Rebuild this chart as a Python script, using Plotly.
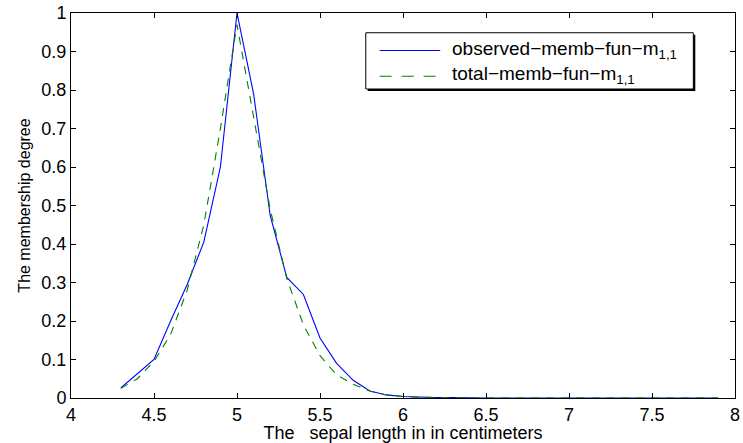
import plotly.graph_objects as go

sepal_length = [4.3, 4.4, 4.5, 4.6, 4.7, 4.8, 4.9, 5.0, 5.1, 5.2, 5.3, 5.4, 5.5,
                5.6, 5.7, 5.8, 5.9, 6.0, 6.1, 6.2, 6.3, 6.4, 6.5, 6.6, 6.7, 6.8,
                6.9, 7.0, 7.1, 7.2, 7.3, 7.4, 7.5, 7.6, 7.7, 7.8, 7.9]

observed_memb = [0.026, 0.063, 0.10, 0.20, 0.295, 0.405, 0.60, 1.00, 0.79, 0.474,
                 0.313, 0.269, 0.156, 0.090, 0.046, 0.018, 0.008, 0.004, 0.002,
                 0.001, 0.001, 0.0, 0.0, 0.0, 0.0, 0.0, 0.0, 0.0, 0.0, 0.0, 0.0,
                 0.0, 0.0, 0.0, 0.0, 0.0, 0.0]

total_memb = [0.025, 0.05, 0.095, 0.165, 0.28, 0.45, 0.70, 0.97, 0.73, 0.49,
              0.31, 0.19, 0.11, 0.06, 0.036, 0.018, 0.008, 0.004, 0.002, 0.001,
              0.0005, 0.0, 0.0, 0.0, 0.0, 0.0, 0.0, 0.0, 0.0, 0.0, 0.0, 0.0,
              0.0, 0.0, 0.0, 0.0, 0.0]

x_ticks = [4, 4.5, 5, 5.5, 6, 6.5, 7, 7.5, 8]
x_tick_labels = ["4", "4.5", "5", "5.5", "6", "6.5", "7", "7.5", "8"]
y_ticks = [0, 0.1, 0.2, 0.3, 0.4, 0.5, 0.6, 0.7, 0.8, 0.9, 1]
y_tick_labels = ["0", "0.1", "0.2", "0.3", "0.4", "0.5", "0.6", "0.7", "0.8", "0.9", "1"]

series_names = ["observed\u2212memb\u2212fun\u2212m<sub>1,1</sub>",
                "total\u2212memb\u2212fun\u2212m<sub>1,1</sub>"]
series_colors = ["#0000ff", "#008000"]
series_dash = ["solid", "8px,7px"]
legend_dash = ["solid", "12px,10px"]

FONT = "Liberation Sans, Arial, Helvetica, sans-serif"

W, H = 743, 443
ML, MR, MT, MB = 71, 3, 8, 45
PW, PH = W - ML - MR, H - MT - MB


def px_x(p):
    return (p - ML) / PW


def px_y(p):
    return (H - MB - p) / PH


fig = go.Figure()
for ys, name, col, dash in zip([observed_memb, total_memb], series_names,
                               series_colors, series_dash):
    fig.add_trace(go.Scatter(
        x=sepal_length, y=ys, mode="lines", name=name,
        line=dict(color=col, width=1.1, dash=dash), showlegend=False,
    ))

axis_common = dict(
    showline=True, linecolor="black", linewidth=1, mirror="ticks",
    ticks="inside", ticklen=5, tickcolor="black", showgrid=False,
    zeroline=False, ticklabeloverflow="allow",
    tickfont=dict(family=FONT, size=18, color="black"),
)

# legend box (MATLAB style, with slight shadow)
shapes = [
    dict(type="rect", xref="paper", yref="paper",
         x0=px_x(370), x1=px_x(700), y0=px_y(87), y1=px_y(30),
         fillcolor="black", line=dict(width=0), layer="above"),
    dict(type="rect", xref="paper", yref="paper",
         x0=px_x(368), x1=px_x(698), y0=px_y(85), y1=px_y(28),
         fillcolor="white", line=dict(color="black", width=1), layer="above"),
]
annotations = []
row_y = [46, 72]
for ry, name, col, dash in zip(row_y, series_names, series_colors, legend_dash):
    shapes.append(dict(type="line", xref="paper", yref="paper",
                       x0=px_x(382), x1=px_x(443), y0=px_y(ry), y1=px_y(ry),
                       line=dict(color=col, width=1.1, dash=dash),
                       layer="above"))
    annotations.append(dict(xref="paper", yref="paper", x=px_x(453), y=px_y(ry - 1),
                            xanchor="left", yanchor="middle", showarrow=False,
                            text=name, font=dict(family=FONT, size=19, color="black")))

fig.update_layout(
    width=W, height=H,
    margin=dict(l=ML, r=MR, t=MT, b=MB),
    paper_bgcolor="white", plot_bgcolor="white",
    font=dict(family=FONT, color="black"),
    xaxis=dict(range=[4, 8], tickvals=x_ticks, ticktext=x_tick_labels,
               title=dict(text="The\u00a0\u00a0\u00a0sepal length in in centimeters",
                          font=dict(family=FONT, size=18), standoff=2),
               **axis_common),
    yaxis=dict(range=[0, 1], tickvals=y_ticks, ticktext=y_tick_labels,
               title=dict(text="The membership degree",
                          font=dict(family=FONT, size=16), standoff=6),
               **axis_common),
    shapes=shapes,
    annotations=annotations,
    showlegend=False,
)

fig.write_html("out.html")
